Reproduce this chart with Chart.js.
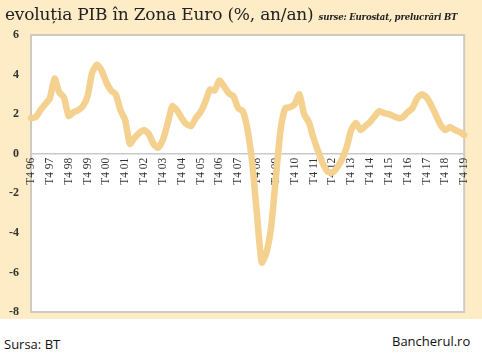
<!DOCTYPE html>
<html>
<head>
<meta charset="utf-8">
<script src="https://cdn.jsdelivr.net/npm/chart.js@4"></script>
<style>
  html, body { margin: 0; padding: 0; background: #ffffff; }
  #wrap { position: relative; width: 482px; height: 356px; overflow: hidden; background: #ffffff; }
  #box { position: absolute; left: 0; top: 0; width: 482px; height: 319px; background: #fdecc6; }
  canvas { position: absolute; left: 0; top: 0; }
  #title { position: absolute; left: 5px; top: 4px; white-space: nowrap; color: #222; font-family: "DejaVu Serif", serif; font-size: 17px; letter-spacing: -0.2px; }
  #title .src { font-style: italic; font-weight: bold; font-size: 8.6px; margin-left: 5px; letter-spacing: -0.2px; }
  #left { position: absolute; left: 4px; top: 335px; font-family: "Open Sans", "Liberation Sans", sans-serif; font-size: 13px; color: #111; }
  #right { position: absolute; left: 392px; top: 332px; font-family: "Open Sans", "Liberation Sans", sans-serif; font-size: 13px; color: #111; }
</style>
</head>
<body>
<div id="wrap">
  <div id="box"></div>
  <canvas id="c" width="482" height="319"></canvas>
  <div id="title">evoluția PIB în Zona Euro (%, an/an)<span class="src">surse: Eurostat, prelucrări BT</span></div>
  <div id="left">Sursa: BT</div>
  <div id="right">Bancherul.ro</div>
</div>
<script>
// Tick years (labels shown at each Q4)
const tickYears = ['96','97','98','99','00','01','02','03','04','05','06','07','08','09','10','11','12','13','14','15','16','17','18','19'];
const quarterNames = ['T1','T2','T3','T4'];
// GDP growth, % y/y, quarterly from T4 96 to T4 19
const gdpGrowth = [
  1.8, 1.85, 2.2, 2.5,
  2.8, 3.8, 3.1, 2.85,
  1.9, 2.1, 2.2, 2.4,
  2.9, 4.1, 4.5, 4.2,
  3.6, 3.2, 3.0, 2.2,
  1.7, 0.5, 0.8, 1.05,
  1.2, 1.0, 0.5, 0.3,
  0.7, 1.5, 2.4, 2.2,
  1.8, 1.5, 1.4, 1.8,
  2.1, 2.6, 3.25, 3.2,
  3.7, 3.4, 3.05, 2.9,
  2.3, 2.15, 1.2, -0.5,
  -3.1, -5.5, -5.0, -3.7,
  -1.2, 1.2, 2.3, 2.35,
  2.5, 3.0, 2.0, 1.6,
  0.8, 0.1, -0.5, -0.9,
  -0.95, -0.7, -0.3, 0.3,
  1.2, 1.55, 1.2, 1.4,
  1.6, 1.9, 2.15, 2.05,
  2.0, 1.9, 1.8, 1.85,
  2.1, 2.3, 2.8, 3.0,
  2.85, 2.45, 1.95, 1.45,
  1.2, 1.35, 1.2, 1.1,
  0.95
];
const yTicks = [-8, -6, -4, -2, 0, 2, 4, 6];

// categories: T4 96 ... T4 19
const categories = ['T4 ' + tickYears[0]];
for (let k = 1; k < tickYears.length; k++) {
  for (const q of quarterNames) categories.push(q + ' ' + tickYears[k]);
}

const plotFrame = {
  id: 'plotFrame',
  beforeDraw(chart) {
    const a = chart.chartArea, ctx = chart.ctx;
    ctx.save();
    ctx.fillStyle = '#ffffff';
    ctx.fillRect(a.left, a.top, a.right - a.left, a.bottom - a.top);
    ctx.strokeStyle = '#cfcac0';
    ctx.lineWidth = 2;
    ctx.strokeRect(a.left, a.top, a.right - a.left, a.bottom - a.top);
    ctx.restore();
  }
};

new Chart(document.getElementById('c'), {
  type: 'line',
  data: {
    labels: categories,
    datasets: [{
      data: gdpGrowth,
      borderColor: '#f4d18f',
      borderWidth: 6.5,
      pointRadius: 0,
      tension: 0.2,
      borderJoinStyle: 'round',
      borderCapStyle: 'round',
      clip: false,
      fill: false
    }]
  },
  options: {
    responsive: false,
    animation: false,
    events: [],
    layout: { padding: { top: 35, right: 7, bottom: 7, left: 0 } },
    plugins: { legend: { display: false }, tooltip: { enabled: false } },
    scales: {
      x: {
        type: 'category',
        position: { y: 0 },
        offset: false,
        afterFit: s => { s.paddingTop = 0; s.paddingBottom = 0; },
        grid: { display: false, drawTicks: false },
        border: { display: true, color: '#c9c9c9', width: 1.5 },
        ticks: {
          autoSkip: false,
          maxRotation: 90,
          minRotation: 90,
          padding: 4,
          color: '#333',
          font: { family: 'Liberation Serif', size: 11.5 },
          callback: function (v) {
            const l = this.getLabelForValue(v);
            return l.startsWith('T4') ? l : '';
          }
        }
      },
      y: {
        min: -8,
        max: 6,
        afterFit: s => { s.width = 31; s.paddingTop = 0; s.paddingBottom = 0; },
        afterBuildTicks: s => { s.ticks = yTicks.map(v => ({ value: v })); },
        grid: { display: false, drawTicks: false },
        border: { display: false },
        ticks: {
          padding: 12,
          color: '#333',
          font: { family: 'Liberation Serif', size: 12, weight: 'bold' }
        }
      }
    }
  },
  plugins: [plotFrame]
});
</script>
</body>
</html>
